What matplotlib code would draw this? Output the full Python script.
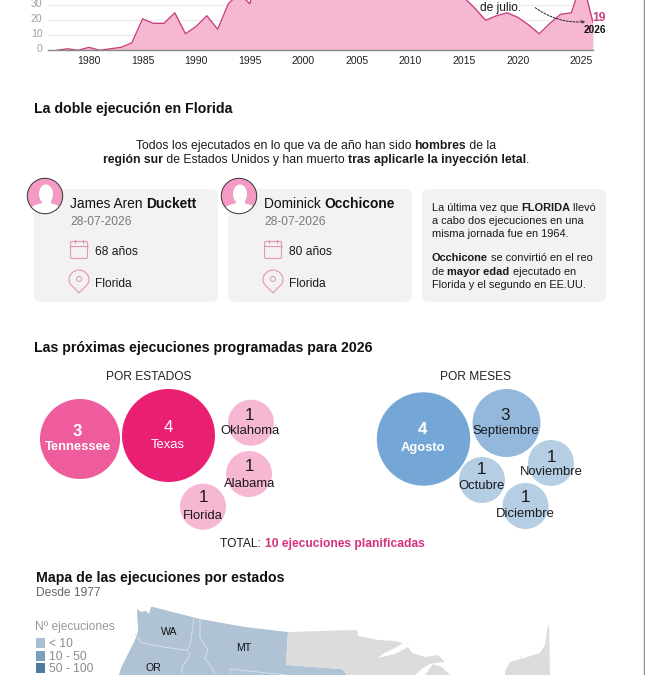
import matplotlib
matplotlib.use('Agg')
import matplotlib.pyplot as plt
from matplotlib.patches import Circle, Ellipse, FancyBboxPatch, FancyArrowPatch, PathPatch, Polygon, Rectangle
from matplotlib.path import Path
from matplotlib.transforms import ScaledTranslation

plt.rcParams['font.family'] = ['Liberation Sans', 'DejaVu Sans']

# ejecuciones por año
years = list(range(1976, 2027))
executions = [0, 1, 0, 2, 0, 1, 2, 5, 21, 18, 18, 25, 11, 16, 23, 14, 31, 38, 31, 56, 45, 74, 68, 98, 85, 66,
              71, 65, 59, 60, 53, 42, 37, 52, 46, 43, 43, 39, 35, 28, 20, 23, 25, 22, 17, 11, 18, 24, 25, 47, 19]
tick_years = [1980, 1985, 1990, 1995, 2000, 2005, 2010, 2015, 2020, 2025]
y_ticks = [0, 10, 20, 30]

state_names = ['Tennessee', 'Texas', 'Oklahoma', 'Alabama', 'Florida']
state_counts = [3, 4, 1, 1, 1]
month_names = ['Agosto', 'Septiembre', 'Noviembre', 'Octubre', 'Diciembre']
month_counts = [4, 3, 1, 1, 1]

legend_labels = ['< 10', '10 - 50', '50 - 100']
legend_colors = ['#aabfd4', '#7d9fbc', '#4f7c9e']

# contornos del mapa (recortado por abajo)
map_blue = [(137, 609), (141, 612), (146, 611), (149, 614), (151, 607), (153, 607), (200, 619), (245, 627),
            (288, 632), (286, 665), (342, 669), (347, 675), (119, 675), (121, 668), (135, 640), (138, 631)]
map_gray = [(288, 632), (354, 630), (357, 630), (358, 636), (364, 637), (378, 640), (395, 641), (403, 643),
            (395, 648), (384, 653), (378, 658), (395, 654), (408, 647), (412, 653), (425, 657), (438, 655),
            (445, 662), (436, 663), (430, 664), (423, 668), (415, 675), (347, 675), (342, 669), (286, 665)]
map_gray_mi = [(433, 664), (442, 667), (450, 675), (425, 675)]
map_gray_ne = [(505, 675), (505, 671), (510, 662), (524, 658), (540, 653), (545, 645), (547, 630), (549, 623),
               (550, 675)]
map_borders = [
    [(135, 634), (142, 643), (170, 648), (187, 650)],
    [(194, 619), (190, 645), (187, 650), (190, 655), (182, 667), (182, 675)],
    [(200, 620), (200, 638), (208, 650), (205, 658), (215, 673)],
    [(230, 675), (230, 669), (286, 675)],
    [(342, 634), (342, 669)],
    [(520, 656), (527, 675)],
]


def px(size):
    return size * 0.72


fig = plt.figure(figsize=(6.45, 6.75), dpi=100)
renderer = fig.canvas.get_renderer()

# area chart, la parte alta queda cortada por el borde de la imagen
ax = fig.add_axes([48 / 645, 1 - 50.3 / 675, (593 - 48) / 645, 50.3 / 675])
ax.set_xlim(1979 + (48 - 89) / 10.72, 1979 + (593 - 89) / 10.72)
ax.set_ylim(0, 50.3 / 1.5)
ax.fill_between(years, executions, color='#f6b7d3', lw=0)
ax.plot(years, executions, color='#c9447f', lw=1)
for s in ax.spines.values():
    s.set_visible(False)
ax.spines['bottom'].set_visible(True)
ax.spines['bottom'].set_color('#8a8a8a')
ax.spines['bottom'].set_linewidth(1)
ax.set_axisbelow(True)
ax.grid(axis='y', color='#ececec', lw=0.8)
ax.set_yticks(y_ticks)
ax.set_yticklabels([str(v) for v in y_ticks], color='#a0a0a0', fontsize=px(10.5))
ax.set_xticks([y - 1 for y in tick_years[:-1]] + [2026])
ax.set_xticklabels([str(y) for y in tick_years], color='#222222', fontsize=px(10.5))
ax.get_xticklabels()[-1].set_ha('right')
ax.tick_params(length=0, axis='both')
ax.tick_params(axis='x', pad=4)
ax.tick_params(axis='y', pad=4)
for lab in ax.get_yticklabels():
    lab.set_transform(lab.get_transform() + ScaledTranslation(0, 1.5 / 72, fig.dpi_scale_trans))
ax.patch.set_visible(False)

page = fig.add_axes([0, 0, 1, 1], zorder=5)
page.set_xlim(0, 645)
page.set_ylim(675, 0)
page.axis('off')
page.patch.set_visible(False)


def run_width(s, size, weight):
    t = page.text(0, 0, s + '|', fontsize=px(size), fontweight=weight)
    w = t.get_window_extent(renderer).width
    t.set_text('|')
    w -= t.get_window_extent(renderer).width
    t.remove()
    return w


def rich(x, y, parts, size, ha='left', color='#1a1a1a'):
    # parts: (texto, negrita) o (texto, negrita, color)
    widths = [run_width(p[0], size, 'bold' if p[1] else 'normal') for p in parts]
    if ha == 'center':
        x = x - sum(widths) / 2
    base = y + 0.36 * size
    for p, w in zip(parts, widths):
        page.text(x, base, p[0], fontsize=px(size), fontweight='bold' if p[1] else 'normal',
                  color=p[2] if len(p) > 2 else color, va='baseline', ha='left')
        x += w


# anotacion de la serie
page.text(480, 7.5, 'de julio.', fontsize=px(12), color='#1a1a1a', va='center')
page.add_patch(FancyArrowPatch((533, 6), (588, 21.5), connectionstyle='arc3,rad=0.2', arrowstyle='->',
                               mutation_scale=5, lw=0.7, ls=(0, (2, 1.5)), color='#222222'))
page.text(599, 18, '19', fontsize=px(12), fontweight='bold', color='#c9407f', ha='center', va='center')
page.text(595, 30, '2026', fontsize=px(10), fontweight='bold', color='#111111', ha='center', va='center')

# linea del borde derecho
page.plot([644.3, 644.3], [0, 675], color='#8c8c8c', lw=1)

# la doble ejecucion
rich(34, 108, [('La doble ejecución en Florida', True)], 14.1, color='#111111')
rich(316, 144.5, [('Todos los ejecutados en lo que va de año han sido ', False), ('hombres', True),
                  (' de la', False)], 12.2, ha='center')
rich(316, 159, [('región sur', True), (' de Estados Unidos y han muerto ', False),
                ('tras aplicarle la inyección letal', True), ('.', False)], 12.2, ha='center')

card_names = [[('James Aren ', False), ('Duckett', True)], [('Dominick ', False), ('Occhicone', True)]]
card_ages = ['68 años', '80 años']
for x0, name, age in zip([34, 228], card_names, card_ages):
    page.add_patch(FancyBboxPatch((x0 + 6, 195), 172, 101, boxstyle='round,pad=6,rounding_size=7',
                                  fc='#f2f2f2', ec='none'))
    # avatar
    cx = x0 + 11
    bg = Circle((cx, 196), 17.7, fc='#f49ac4', ec='none')
    page.add_patch(bg)
    for shape in [Ellipse((cx + 1, 218), 42, 30, fc='white', ec='none'),
                  Ellipse((cx + 1, 194), 14, 19, fc='white', ec='none'),
                  Rectangle((cx - 3.5, 198), 9, 8, fc='white', ec='none')]:
        page.add_patch(shape)
        shape.set_clip_path(bg)
    page.add_patch(Circle((cx, 196), 17.7, fc='none', ec='#333333', lw=0.7))

    tx = x0 + 36
    rich(tx, 203, name, 13.7, color='#111111')
    rich(tx, 221, [('28-07-2026', False)], 12, color='#7a7a7a')
    # calendario
    page.add_patch(FancyBboxPatch((tx + 0.5, 241.5), 17, 17, boxstyle='round,pad=0,rounding_size=1.5',
                                  fc='none', ec='#e493b8', lw=0.8))
    page.plot([tx + 0.5, tx + 17.5], [246, 246], color='#e493b8', lw=0.8)
    page.plot([tx + 5, tx + 5], [240, 243], color='#e493b8', lw=0.8)
    page.plot([tx + 13, tx + 13], [240, 243], color='#e493b8', lw=0.8)
    rich(tx + 25, 251, [(age, False)], 12)
    # pin
    mx = tx + 9
    verts = [(mx, 293), (mx - 4, 288), (mx - 10, 285), (mx - 10, 280), (mx - 10, 274), (mx - 5, 270), (mx, 270),
             (mx + 5, 270), (mx + 10, 274), (mx + 10, 280), (mx + 10, 285), (mx + 4, 288), (mx, 293)]
    codes = [Path.MOVETO] + [Path.CURVE4] * 12
    page.add_patch(PathPatch(Path(verts, codes), fc='none', ec='#e493b8', lw=0.8))
    page.add_patch(Circle((mx, 279), 2.5, fc='none', ec='#e493b8', lw=0.7))
    rich(tx + 25, 283, [('Florida', False)], 12)

page.add_patch(FancyBboxPatch((428, 195), 172, 101, boxstyle='round,pad=6,rounding_size=7', fc='#f2f2f2', ec='none'))
note_lines = [
    (207.3, [('La última vez que ', False), ('FLORIDA', True), (' llevó', False)]),
    (220, [('a cabo dos ejecuciones en una', False)]),
    (233.3, [('misma jornada fue en 1964.', False)]),
    (257.3, [('Occhicone', True), (' se convirtió en el reo', False)]),
    (271, [('de ', False), ('mayor edad', True), (' ejecutado en', False)]),
    (284.3, [('Florida y el segundo en EE.UU.', False)]),
]
for ly, parts in note_lines:
    rich(432, ly, parts, 11)

# proximas ejecuciones
rich(34, 346.7, [('Las próximas ejecuciones programadas para 2026', True)], 14.1, color='#111111')
page.text(149, 376.7, 'POR ESTADOS', fontsize=px(12), color='#222222', ha='center', va='center')
page.text(475, 376.7, 'POR MESES', fontsize=px(12), color='#222222', ha='center', va='center')

state_style = [
    # centro, radio, color, y numero, y nombre, x texto, texto, negrita
    ((80, 439), 40, '#ee5c9d', 431, 447, 77.5, 'white', True),
    ((168.5, 435.5), 46.5, '#e91f74', 428, 445, 168, 'white', False),
    ((251, 422.7), 23, '#f6b7d3', 416, 431, 250, '#1a1a1a', False),
    ((249, 474), 23, '#f6b7d3', 466.7, 483.7, 250, '#1a1a1a', False),
    ((203, 506.7), 23, '#f6b7d3', 498, 516, 203, '#1a1a1a', False),
]
month_style = [
    ((423.5, 439), 46.7, '#74a7d5', 430, 448, 422.5, 'white', True),
    ((506.5, 423), 34, '#93b8dc', 415, 431, 505.5, '#1a1a1a', False),
    ((551, 463), 23, '#b5cee4', 457, 472, 551, '#1a1a1a', False),
    ((482, 480), 23, '#b5cee4', 470, 486, 482, '#1a1a1a', False),
    ((525.5, 506), 23, '#b5cee4', 497.7, 513.7, 525.7, '#1a1a1a', False),
]
for names, counts, styles in [(state_names, state_counts, state_style), (month_names, month_counts, month_style)]:
    for name, count, st in zip(names, counts, styles):
        page.add_patch(Circle(st[0], st[1], fc=st[2], ec='none'))
    for name, count, st in zip(names, counts, styles):
        weight = 'bold' if st[7] else 'normal'
        page.text(st[5], st[3], str(count), fontsize=px(17), fontweight=weight, color=st[6],
                  ha='center', va='center')
        page.text(st[5], st[4], name, fontsize=px(13), fontweight=weight, color=st[6], ha='center', va='center')

rich(322.5, 542.7, [('TOTAL: ', False), ('10 ejecuciones planificadas', True, '#d6307f')], 12, ha='center')

# mapa
rich(35.5, 576.7, [('Mapa de las ejecuciones por estados', True)], 14.1, color='#111111')
rich(35.5, 592, [('Desde 1977', False)], 12, color='#666666')
page.add_patch(Polygon(map_blue, closed=True, fc='#afc3d5', ec='none'))
for shape in [map_gray, map_gray_mi, map_gray_ne]:
    page.add_patch(Polygon(shape, closed=True, fc='#dcdcdc', ec='none'))
for line in map_borders:
    page.plot([p[0] for p in line], [p[1] for p in line], color='#dbe3ea', lw=0.6)
for label, lx, ly in [('WA', 169, 632), ('MT', 244, 648), ('OR', 153, 668)]:
    page.text(lx, ly, label, fontsize=px(10.5), color='#111111', ha='center', va='center')

rich(35, 625.5, [('Nº ejecuciones', False)], 12, color='#9a9a9a')
for i, (label, color) in enumerate(zip(legend_labels, legend_colors)):
    ly = [642.5, 655.5, 668][i]
    page.add_patch(Rectangle((35.5, ly - 5), 9.5, 10, fc=color, ec='none'))
    rich(49, ly, [(label, False)], 12, color='#8c8c8c')

fig.savefig('out.png', dpi=100)
